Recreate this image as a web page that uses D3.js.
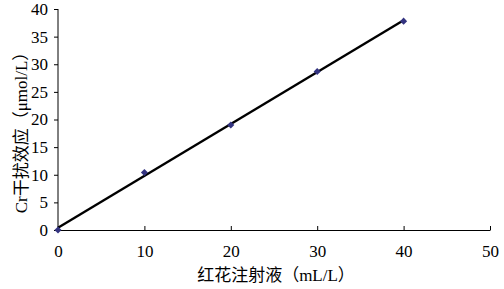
<!DOCTYPE html>
<html>
<head>
<meta charset="utf-8">
<script src="https://cdn.jsdelivr.net/npm/d3@7"></script>
<style>
  html, body { margin: 0; padding: 0; background: #fff; }
  svg text { font-family: "Liberation Serif", "Times New Roman", serif; fill: #000; }
  .cjk { font-family: "Liberation Serif", "Noto Sans CJK SC", serif; }
</style>
</head>
<body>
<div id="chart"></div>
<script>
// data
var dose = [0, 10, 20, 30, 40];
var effect = [0, 10.4, 19.0, 28.7, 37.8];
var xTicks = [0, 10, 20, 30, 40, 50];
var yTicks = [0, 5, 10, 15, 20, 25, 30, 35, 40];

var width = 504, height = 289;
var margin = {top: 9, right: 14, bottom: 59, left: 58};

var svg = d3.select('#chart').append('svg')
    .attr('width', width)
    .attr('height', height);

var x = d3.scaleLinear().domain([0, 50]).range([margin.left, width - margin.right]);
var y = d3.scaleLinear().domain([0, 40]).range([height - margin.bottom, margin.top]);

// y axis, ticks pointing out
var yAxis = svg.append('g')
    .attr('transform', 'translate(' + margin.left + ',0)')
    .call(d3.axisLeft(y).tickValues(yTicks).tickSize(4).tickPadding(6));

// x axis, ticks pointing in
var xAxis = svg.append('g')
    .attr('transform', 'translate(0,' + (height - margin.bottom) + ')')
    .call(d3.axisBottom(x).tickValues(xTicks).tickSizeInner(-4).tickSizeOuter(0).tickPadding(15));

[xAxis, yAxis].forEach(function (g) {
    g.select('.domain').attr('stroke', '#000').attr('stroke-width', 1);
    g.selectAll('.tick line').attr('stroke', '#000');
    g.selectAll('.tick text')
        .style('font-family', '"Liberation Serif", serif')
        .style('font-size', '17px')
        .attr('fill', '#000');
});
yAxis.select('.domain').attr('d', 'M0,' + y(40) + 'V' + y(0));

// least squares trend line
var mx = d3.mean(dose), my = d3.mean(effect);
var slope = d3.sum(dose, function (d, i) { return (d - mx) * (effect[i] - my); }) /
            d3.sum(dose, function (d) { return (d - mx) * (d - mx); });
var intercept = my - slope * mx;
var xMin = d3.min(dose), xMax = d3.max(dose);

svg.append('line')
    .attr('x1', x(xMin)).attr('y1', y(intercept + slope * xMin))
    .attr('x2', x(xMax)).attr('y2', y(intercept + slope * xMax))
    .attr('stroke', '#000')
    .attr('stroke-width', 2.4);

// diamond markers
svg.selectAll('.pt')
    .data(dose)
    .enter().append('path')
    .attr('class', 'pt')
    .attr('d', d3.symbol().type(d3.symbolDiamond2).size(32))
    .attr('transform', function (d, i) { return 'translate(' + x(d) + ',' + y(effect[i]) + ')'; })
    .attr('fill', '#333380');

// axis titles
svg.append('text')
    .attr('class', 'cjk')
    .attr('x', (x(0) + x(50)) / 2 + 2)
    .attr('y', 281)
    .attr('text-anchor', 'middle')
    .style('font-size', '17px')
    .text('红花注射液（mL/L）');

svg.append('text')
    .attr('class', 'cjk')
    .attr('transform', 'translate(27,' + (y(20) + 9) + ') rotate(-90)')
    .attr('text-anchor', 'middle')
    .style('font-size', '17px')
    .text('Cr干扰效应（μmol/L）');
</script>
</body>
</html>
